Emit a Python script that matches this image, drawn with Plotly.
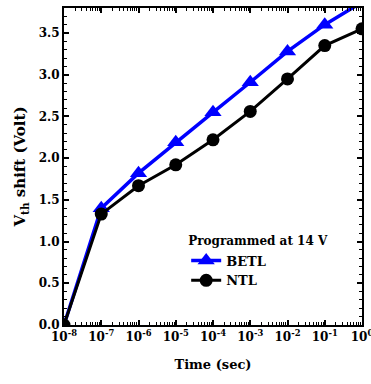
import plotly.graph_objects as go

time_s = [1e-8, 1e-7, 1e-6, 1e-5, 1e-4, 1e-3, 1e-2, 1e-1, 1e0]
betl = [0.0, 1.40, 1.82, 2.19, 2.55, 2.91, 3.28, 3.60, 3.87]
ntl = [0.0, 1.33, 1.67, 1.92, 2.22, 2.56, 2.95, 3.35, 3.55]
xtick_vals = [1e-8, 1e-7, 1e-6, 1e-5, 1e-4, 1e-3, 1e-2, 1e-1, 1e0]
xtick_text = ["10<sup>-8</sup>", "10<sup>-7</sup>", "10<sup>-6</sup>", "10<sup>-5</sup>",
              "10<sup>-4</sup>", "10<sup>-3</sup>", "10<sup>-2</sup>", "10<sup>-1</sup>", "10<sup>0</sup>"]

fam = "DejaVu Serif"


def fnt(size):
    return dict(family=fam, size=size, color="black", weight="bold")


fig = go.Figure()
fig.add_trace(go.Scatter(x=time_s, y=betl, name="BETL", mode="lines+markers",
                         line=dict(color="#0000ff", width=3.5),
                         marker=dict(symbol="triangle-up", size=15, color="#0000ff")))
fig.add_trace(go.Scatter(x=time_s, y=ntl, name="NTL", mode="lines+markers",
                         line=dict(color="#000000", width=3),
                         marker=dict(symbol="circle", size=13, color="#000000")))

axis_common = dict(showline=True, linecolor="black", linewidth=2, mirror="ticks",
                   ticks="inside", ticklen=5, tickwidth=1.5, tickcolor="black",
                   showgrid=False, zeroline=False, automargin=False, ticklabeloverflow="allow")
fig.update_xaxes(type="log", range=[-8, 0], tickmode="array", tickvals=xtick_vals,
                 ticktext=xtick_text, tickfont=fnt(12),
                 minor=dict(dtick="D1", ticks="inside", ticklen=3, tickcolor="black", tickwidth=1),
                 title=dict(text="Time (sec)", font=fnt(13), standoff=16),
                 **axis_common)
fig.update_yaxes(range=[0, 3.8], dtick=0.5, tickformat=".1f", tickfont=fnt(12),
                 minor=dict(dtick=0.1, ticks="inside", ticklen=3, tickcolor="black", tickwidth=1),
                 title=dict(text="V<sub>th</sub> shift (Volt)", font=fnt(15), standoff=9),
                 **axis_common)
fig.update_layout(width=371, height=384, margin=dict(l=64, r=9, t=8, b=59),
                  paper_bgcolor="white", plot_bgcolor="white",
                  legend=dict(x=0.41, y=0.30, xanchor="left", yanchor="top",
                              title=dict(text="Programmed at 14 V", font=fnt(12)),
                              font=fnt(13),
                              bgcolor="rgba(0,0,0,0)", tracegroupgap=0, itemwidth=30),
                  font=dict(family=fam, color="black"))
fig.write_html("out.html")
